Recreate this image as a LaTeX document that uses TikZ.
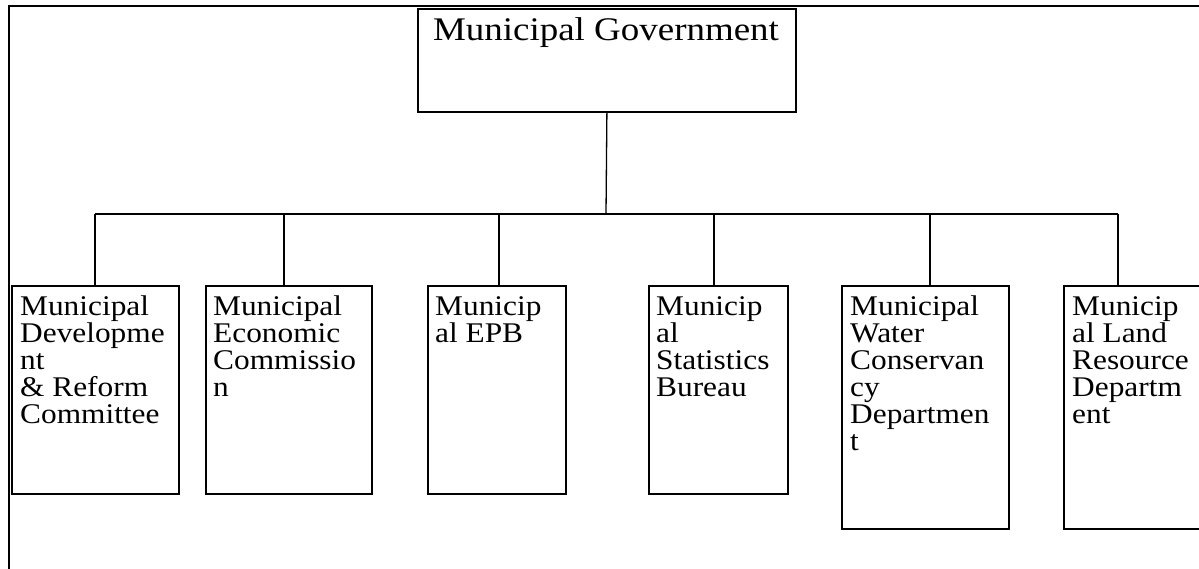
\documentclass[tikz,border=0pt]{standalone}
\usepackage{fontspec}
\setmainfont{Liberation Serif}
\newfontfamily\chfont[FakeStretch=1.1]{Liberation Serif}
\newfontfamily\govfont[FakeStretch=1.12]{Liberation Serif}
\tikzset{
  box/.style={draw, line width=1.8pt, inner sep=0pt, anchor=north west},
  lbl/.style={anchor=north west, inner sep=0pt, align=left, font=\chfont\fontsize{28.5pt}{27pt}\selectfont},
  conn/.style={line width=1.3pt},
  frame/.style={line width=1.8pt}
}
\begin{document}
\begin{tikzpicture}[x=1pt,y=-1pt]
\useasboundingbox (0,0) rectangle (1199,568);
% outer frame (top and left)
\coordinate (fr) at (9,6);
\draw[frame] (fr |- 0,580) -- (fr) -- (1210,6);
% top box
\node[box, minimum width=378pt, minimum height=103pt] (gov) at (417,8) {};
\node[anchor=base, inner sep=0pt, font=\govfont\fontsize{33pt}{33pt}\selectfont] (govt) at (606,40) {Municipal Government};
% child boxes
\node[box, minimum width=167pt, minimum height=208pt] (b1) at (11,285) {};
\node[box, minimum width=166pt, minimum height=208pt] (b2) at (205,285) {};
\node[box, minimum width=138pt, minimum height=208pt] (b3) at (427,285) {};
\node[box, minimum width=139pt, minimum height=208pt] (b4) at (648,285) {};
\node[box, minimum width=167pt, minimum height=243pt] (b5) at (841,285) {};
\node[box, minimum width=167pt, minimum height=243pt] (b6) at (1063,285) {};
% labels
\node[lbl] (t1) at ([xshift=9pt,yshift=-11pt]b1.north west) {Municipal\\Developme\\nt\\\& Reform\\Committee};
\node[lbl] (t2) at ([xshift=8pt,yshift=-11pt]b2.north west) {Municipal\\Economic\\Commissio\\n};
\node[lbl] (t3) at ([xshift=8pt,yshift=-11pt]b3.north west) {Municip\\al EPB};
\node[lbl] (t4) at ([xshift=8pt,yshift=-11pt]b4.north west) {Municip\\al\\Statistics\\Bureau};
\node[lbl] (t5) at ([xshift=9pt,yshift=-11pt]b5.north west) {Municipal\\Water\\Conservan\\cy\\Departmen\\t};
\node[lbl] (t6) at ([xshift=9pt,yshift=-11pt]b6.north west) {Municip\\al Land\\Resource\\Departm\\ent};
% drop points
\coordinate (d1) at ([xshift=84pt]b1.north west);
\coordinate (d2) at ([xshift=79pt]b2.north west);
\coordinate (d3) at ([xshift=72pt]b3.north west);
\coordinate (d4) at ([xshift=66pt]b4.north west);
\coordinate (d5) at ([xshift=89pt]b5.north west);
\coordinate (d6) at ([xshift=55pt]b6.north west);
\coordinate (bus) at (606,214);
% connectors
\draw[conn] (gov.south) -- (bus);
\draw[conn] (bus -| d1) -- (bus -| d6);
\foreach \d in {d1,d2,d3,d4,d5,d6}
  \draw[conn] (bus -| \d) -- (\d);
\end{tikzpicture}
\end{document}
